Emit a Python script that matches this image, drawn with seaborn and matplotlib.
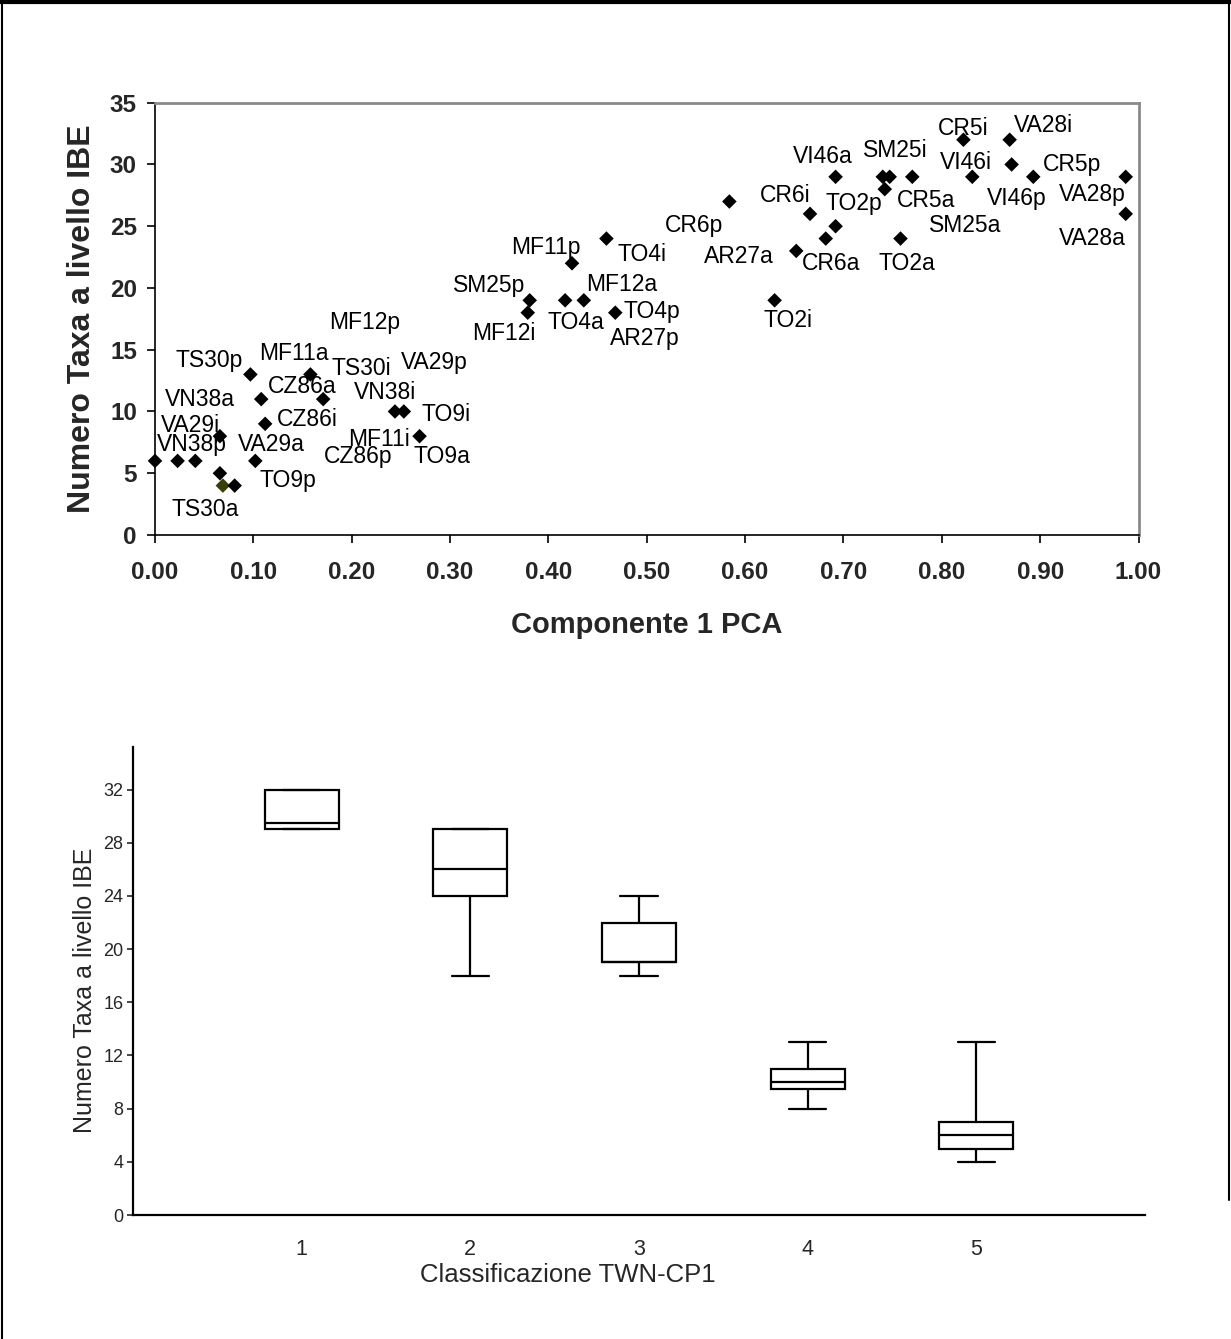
import matplotlib
matplotlib.use("Agg")
import matplotlib.pyplot as plt
import matplotlib.ticker as mticker
from matplotlib.lines import Line2D
import seaborn as sns
import pandas as pd

sns.set_style("ticks")
plt.rcParams['font.family'] = ['Liberation Sans', 'DejaVu Sans']

# ---------------- data: scatter (Componente 1 PCA vs Numero Taxa) ----------------
pca_x = [0.000, 0.023, 0.041, 0.066, 0.066, 0.069, 0.081, 0.097, 0.108, 0.112,
         0.102, 0.158, 0.171, 0.244, 0.253, 0.269,
         0.459, 0.424, 0.381, 0.379, 0.417, 0.436, 0.468,
         0.584, 0.652, 0.630, 0.666, 0.692, 0.682, 0.692,
         0.740, 0.747, 0.742, 0.770, 0.758, 0.822, 0.831, 0.869, 0.871, 0.893,
         0.987, 0.987]
taxa_y = [6, 6, 6, 8, 5, 4, 4, 13, 11, 9,
          6, 13, 11, 10, 10, 8,
          24, 22, 19, 18, 19, 19, 18,
          27, 23, 19, 26, 25, 24, 29,
          29, 29, 28, 29, 24, 32, 29, 32, 30, 29,
          29, 26]
point_group = ["std"] * 5 + ["olive"] + ["std"] * 36

site_labels = ["MF12p", "TS30p", "MF11a", "TS30i", "VA29p", "VN38a", "CZ86a", "VN38i",
               "TO9i", "VA29i", "CZ86i", "MF11i", "VN38p", "VA29a", "CZ86p", "TO9a",
               "TO9p", "TS30a",
               "MF11p", "TO4i", "SM25p", "MF12a", "TO4p", "TO4a", "MF12i", "AR27p",
               "VI46a", "CR6i", "TO2p", "CR6p", "AR27a", "CR6a", "TO2i",
               "SM25i", "CR5i", "VA28i", "VI46i", "CR5p", "CR5a", "VI46p", "VA28p",
               "SM25a", "TO2a", "VA28a"]
# label anchor (left, baseline) in data coordinates
label_x = [0.177, 0.021, 0.106, 0.179, 0.250, 0.010, 0.115, 0.202,
           0.271, 0.006, 0.124, 0.196, 0.002, 0.084, 0.172, 0.263,
           0.106, 0.017,
           0.362, 0.470, 0.303, 0.438, 0.476, 0.399, 0.322, 0.463,
           0.649, 0.615, 0.682, 0.518, 0.558, 0.658, 0.619,
           0.720, 0.796, 0.873, 0.798, 0.903, 0.754, 0.846, 0.919,
           0.787, 0.736, 0.919]
label_y = [16.66, 13.63, 14.17, 12.96, 13.44, 10.45, 11.47, 11.01,
           9.26, 8.36, 8.83, 7.21, 6.80, 6.80, 5.81, 5.81,
           3.91, 1.56,
           22.75, 22.21, 19.70, 19.78, 17.55, 16.66, 15.79, 15.38,
           30.10, 26.94, 26.32, 24.51, 22.00, 21.46, 16.87,
           30.63, 32.39, 32.66, 29.64, 29.47, 26.58, 26.72, 27.04,
           24.56, 21.46, 23.48]

x_ticks = [0.0, 0.1, 0.2, 0.3, 0.4, 0.5, 0.6, 0.7, 0.8, 0.9, 1.0]
y_ticks_top = [0, 5, 10, 15, 20, 25, 30, 35]

# ---------------- data: box plot (five-number summary per class) ----------------
classes = ["1", "2", "3", "4", "5"]
box_min = [29, 18, 18, 8, 4]
box_q1 = [29, 24, 19, 9.5, 5]
box_median = [29.5, 26, 19, 10, 6]
box_q3 = [32, 29, 22, 11, 7]
box_max = [32, 29, 24, 13, 13]
y_ticks_box = [0, 4, 8, 12, 16, 20, 24, 28, 32]

rows = []
for c, a, b, m, d, e in zip(classes, box_min, box_q1, box_median, box_q3, box_max):
    for v in (a, b, m, d, e):
        rows.append({"Classe": c, "Taxa": v})
box_df = pd.DataFrame(rows)

scatter_df = pd.DataFrame({"x": pca_x, "y": taxa_y, "g": point_group})

# ---------------- figure ----------------
W, H = 1231, 1339
fig = plt.figure(figsize=(W / 100, H / 100), dpi=100)
fig.patch.set_facecolor("white")

# ---- top: scatter ----
ax1 = fig.add_axes([155 / W, 1 - 535 / H, (1138.5 - 155) / W, (535 - 102.7) / H])
sns.scatterplot(data=scatter_df, x="x", y="y", hue="g",
                palette={"std": "black", "olive": "#3d3d0c"},
                marker="D", s=55, linewidth=0, legend=False, ax=ax1, zorder=3)
for coll in ax1.collections:
    coll.set_clip_on(False)
for lx, ly, t in zip(label_x, label_y, site_labels):
    ax1.text(lx, ly, t, ha="left", va="baseline", fontsize=16.5, color="black")

ax1.set_xlim(0, 1)
ax1.set_ylim(0, 35)
ax1.set_xticks(x_ticks)
ax1.set_yticks(y_ticks_top)
ax1.xaxis.set_major_formatter(mticker.FormatStrFormatter("%.2f"))
ax1.tick_params(axis="both", direction="out", length=6, width=1.2, color="black",
                labelsize=17.5)
ax1.tick_params(axis="x", pad=13)
ax1.tick_params(axis="y", pad=7)
for lab in ax1.get_xticklabels() + ax1.get_yticklabels():
    lab.set_fontweight("bold")
for side in ("top", "right"):
    ax1.spines[side].set_color("#8a8a8a")
    ax1.spines[side].set_linewidth(2)
for side in ("left", "bottom"):
    ax1.spines[side].set_color("black")
    ax1.spines[side].set_linewidth(1.2)
ax1.set_xlabel("Componente 1 PCA", fontsize=21, fontweight="bold")
ax1.set_ylabel("Numero Taxa a livello IBE", fontsize=23, fontweight="bold")
ax1.xaxis.set_label_coords(0.5, -0.175)
ax1.yaxis.set_label_coords(-0.059, 0.5)

# ---- bottom: box plot ----
ax2 = fig.add_axes([133 / W, 1 - 1215 / H, (1145 - 133) / W, (1215 - 747) / H])
sns.boxplot(data=box_df, x="Classe", y="Taxa", order=classes, whis=(0, 100),
            width=0.44, color="white", linecolor="black", linewidth=1.6,
            showfliers=False, ax=ax2)
ax2.set_xlim(-1, 5)
ax2.set_ylim(0, 35.2)
ax2.set_yticks(y_ticks_box)
for side in ("top", "right"):
    ax2.spines[side].set_visible(False)
for side in ("left", "bottom"):
    ax2.spines[side].set_color("black")
    ax2.spines[side].set_linewidth(1.6)
ax2.tick_params(axis="y", direction="out", length=4, width=1.2, labelsize=13, pad=3)
ax2.tick_params(axis="x", length=0, labelsize=15.5, pad=17)
ax2.set_xlabel("Classificazione TWN-CP1", fontsize=18.5)
ax2.set_ylabel("Numero Taxa a livello IBE", fontsize=18)
ax2.xaxis.set_label_coords(0.43, -0.103)
ax2.yaxis.set_label_coords(-0.036, 0.48)

# ---- page border ----
fig.add_artist(Line2D([0, 1], [1 - 2 / H, 1 - 2 / H], transform=fig.transFigure,
                      color="black", lw=3))
fig.add_artist(Line2D([1.5 / W, 1.5 / W], [0, 1], transform=fig.transFigure,
                      color="black", lw=1.5))
fig.add_artist(Line2D([1 - 2 / W, 1 - 2 / W], [1 - 1200 / H, 1], transform=fig.transFigure,
                      color="black", lw=1.5))

fig.savefig("out.png", dpi=100, facecolor="white")
